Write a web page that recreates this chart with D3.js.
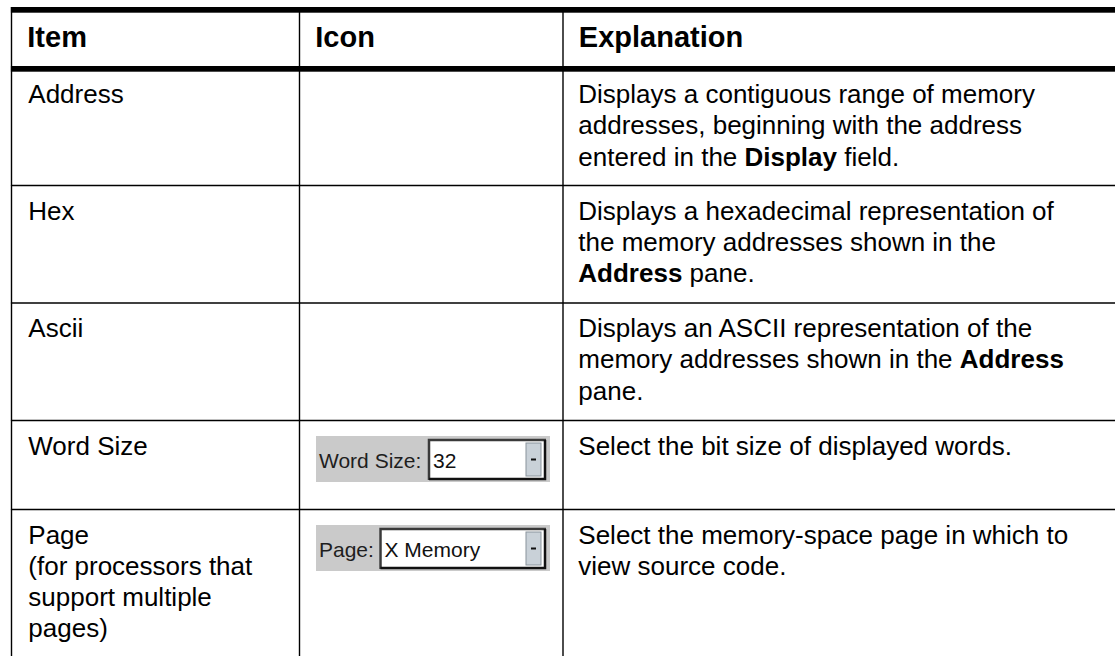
<!DOCTYPE html>
<html>
<head>
<meta charset="utf-8">
<script src="https://cdn.jsdelivr.net/npm/d3@7"></script>
<style>
  html, body { margin: 0; padding: 0; background: #fff; }
  svg { display: block; }
  text { font-family: "Liberation Sans", Arial, sans-serif; fill: #000; }
</style>
</head>
<body>
<svg id="chart" width="1115" height="656"></svg>
<script>
// ---- data ----
const headers = ["Item", "Icon", "Explanation"];
const items = [
  ["Address"],
  ["Hex"],
  ["Ascii"],
  ["Word Size"],
  ["Page", "(for processors that", "support multiple", "pages)"]
];
const explanations = [
  ["Displays a contiguous range of memory", "addresses, beginning with the address", "entered in the **Display** field."],
  ["Displays a hexadecimal representation of", "the memory addresses shown in the", "**Address** pane."],
  ["Displays an ASCII representation of the", "memory addresses shown in the **Address**", "pane."],
  ["Select the bit size of displayed words."],
  ["Select the memory-space page in which to", "view source code."]
];
const iconLabels = [null, null, null, "Word Size:", "Page:"];
const iconValues = [null, null, null, "32", "X Memory"];

// ---- layout ----
const W = 1115, H = 656;
const colEdges = [11.5, 299.5, 563, W];
const rowLines = [69, 185.5, 303, 420.5, 509.5];   // top rule of each body row
const pad = 16.8;
const lineH = 31.3;

const svg = d3.select("#chart");
const xCol = d3.scaleOrdinal().domain(headers).range(colEdges.slice(0, 3).map(v => v + pad));

// header
svg.append("g").selectAll("text").data(headers).join("text")
  .attr("x", d => xCol(d) - 1)
  .attr("y", 47)
  .style("font-weight", "bold")
  .style("font-size", "29px")
  .text(d => d);

// rich text helper
function richLine(sel, str) {
  const parts = str.split(/(\*\*[^*]+\*\*)/).filter(s => s.length);
  parts.forEach(p => {
    const b = p.startsWith("**");
    sel.append("tspan")
      .style("font-weight", b ? "bold" : "normal")
      .text(b ? p.slice(2, -2) : p);
  });
}

const bodyFont = "26px";
items.forEach((lines, i) => {
  const base = rowLines[i] + 34;
  lines.forEach((ln, j) => {
    svg.append("text").attr("x", xCol("Item")).attr("y", base + j * lineH)
      .style("font-size", bodyFont).text(ln);
  });
  explanations[i].forEach((ln, j) => {
    const t = svg.append("text").attr("x", xCol("Explanation") - 1.5).attr("y", base + j * lineH)
      .style("font-size", bodyFont);
    richLine(t, ln);
  });
});

// icons (combo box widgets)
const iconSpec = {3: {top: 436, fieldX: 428}, 4: {top: 525, fieldX: 379.5}};
iconLabels.forEach((lab, i) => {
  if (!lab) return;
  const s = iconSpec[i];
  const g = svg.append("g");
  const x0 = 316, x1 = 550, y0 = s.top, h = 46;
  g.append("rect").attr("x", x0).attr("y", y0).attr("width", x1 - x0).attr("height", h).attr("fill", "#cacaca");
  g.append("text").attr("x", x0 + 3).attr("y", y0 + 32).style("font-size", "21px").style("fill", "#1e1e1e").text(lab);
  const fx = s.fieldX, fy = y0 + 3, fw = x1 - 4 - fx, fh = h - 5;
  g.append("rect").attr("x", fx).attr("y", fy).attr("width", fw).attr("height", fh).attr("fill", "#fff");
  // sunken border: dark top/left, black bottom/right
  g.append("path").attr("d", `M${fx + 1},${fy + fh} V${fy + 1} H${fx + fw}`).attr("fill", "none").attr("stroke", "#3a3a3a").attr("stroke-width", 2.5);
  g.append("path").attr("d", `M${fx + 1},${fy + fh - 1} H${fx + fw - 1} V${fy + 1}`).attr("fill", "none").attr("stroke", "#111").attr("stroke-width", 2.5);
  g.append("text").attr("x", fx + 5).attr("y", y0 + 32).style("font-size", "21px").style("fill", "#111").text(iconValues[i]);
  // dropdown button
  const bx = fx + fw - 20, by = fy + 4, bw = 15, bh = fh - 8;
  g.append("rect").attr("x", bx).attr("y", by).attr("width", bw).attr("height", bh).attr("fill", "#c9d1d8").attr("stroke", "#8a949c").attr("stroke-width", 1);
  g.append("rect").attr("x", bx + bw / 2 - 2.5).attr("y", by + bh / 2 - 1).attr("width", 5).attr("height", 2).attr("fill", "#111");
});

// rules
const rules = svg.append("g");
rules.append("rect").attr("x", colEdges[0] - 0.6).attr("y", 7).attr("width", W).attr("height", 5.7).attr("fill", "#000");
rules.append("rect").attr("x", colEdges[0] - 0.6).attr("y", 66).attr("width", W).attr("height", 5.7).attr("fill", "#000");
rowLines.slice(1).forEach(y => {
  rules.append("line").attr("x1", colEdges[0] - 0.6).attr("x2", W).attr("y1", y).attr("y2", y)
    .attr("stroke", "#000").attr("stroke-width", 1.4);
});
colEdges.slice(0, 3).forEach(x => {
  rules.append("line").attr("x1", x).attr("x2", x).attr("y1", 7).attr("y2", H)
    .attr("stroke", "#000").attr("stroke-width", 1.4);
});
</script>
</body>
</html>
